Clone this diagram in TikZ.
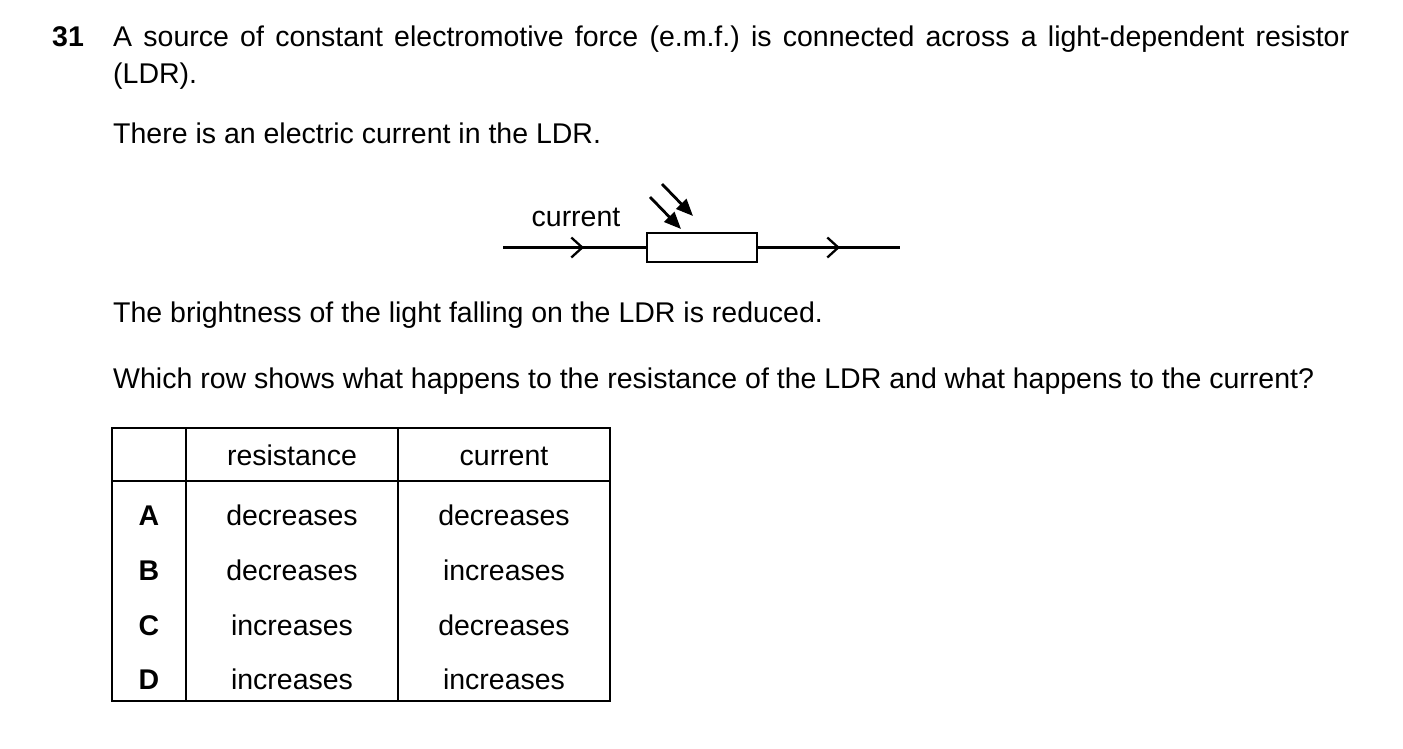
\documentclass[tikz,border=0pt]{standalone}
\usepackage{fontspec}
\setmainfont{Liberation Sans}
\usetikzlibrary{arrows.meta}
\frenchspacing
\begin{document}
\begin{tikzpicture}[x=1pt,y=-1pt,
  txt/.style={anchor=base west,inner sep=0pt,font=\fontsize{28.5}{37}\selectfont},
  cell/.style={anchor=base,inner sep=0pt,font=\fontsize{28.5}{37}\selectfont},
  wire/.style={line width=2.6pt},
  open/.style={-{Straight Barb[length=11pt,width=20pt,line width=2.3pt]}},
  ray/.style={line width=2.8pt,-{Triangle[length=17pt,width=14pt]}}]
\useasboundingbox (0,0) rectangle (1403,748);
\node[txt,font=\fontsize{28.5}{37}\selectfont\bfseries] (num) at (52,46) {31};
\node[anchor=north west,inner sep=0pt,text width=1236pt,align=justify,font=\fontsize{28.5}{37}\selectfont] (q1) at (113,26) {A source of constant electromotive force (e.m.f.) is connected across a light-dependent resistor\linebreak (LDR).};
\node[txt] (q2) at (113,143) {There is an electric current in the LDR.};
\node[txt] (q3) at (113,322) {The brightness of the light falling on the LDR is reduced.};
\node[txt] (q4) at (113,388) {Which row shows what happens to the resistance of the LDR and what happens to the current?};
% LDR
\node[draw,line width=2.6pt,minimum width=110pt,minimum height=29pt,inner sep=0pt] (ldr) at (702,247.5) {};
\coordinate (L) at (503,247.5);
\coordinate (R) at (900,247.5);
\coordinate (la) at (584,247.5);
\coordinate (ra) at (840,247.5);
\draw[wire] (L) -- (ldr.west);
\draw[wire] (ldr.east) -- (R);
\draw[wire,open] (L) -- (la);
\draw[wire,open] (ldr.east) -- (ra);
\node[cell] (cur) at (576,226) {current};
\coordinate (a1s) at (650,197); \coordinate (a1e) at (681,229);
\coordinate (a2s) at (662,184); \coordinate (a2e) at (693,216);
\draw[ray] (a1s) -- (a1e);
\draw[ray] (a2s) -- (a2e);
% table
\draw[line width=1.5pt] (112,428) rectangle (610,701);
\draw[line width=1.5pt] (186,428) -- (186,701) (398,428) -- (398,701) (112,481) -- (610,481);
\node[cell] (h1) at (292,465) {resistance};
\node[cell] (h2) at (504,465) {current};
\foreach \y/\l/\r/\c in {525/A/decreases/decreases,580/B/decreases/increases,635/C/increases/decreases,689/D/increases/increases}{
  \node[cell,font=\fontsize{28.5}{37}\selectfont\bfseries] at (149,\y) {\l};
  \node[cell] at (292,\y) {\r};
  \node[cell] at (504,\y) {\c};
}
\end{tikzpicture}
\end{document}
